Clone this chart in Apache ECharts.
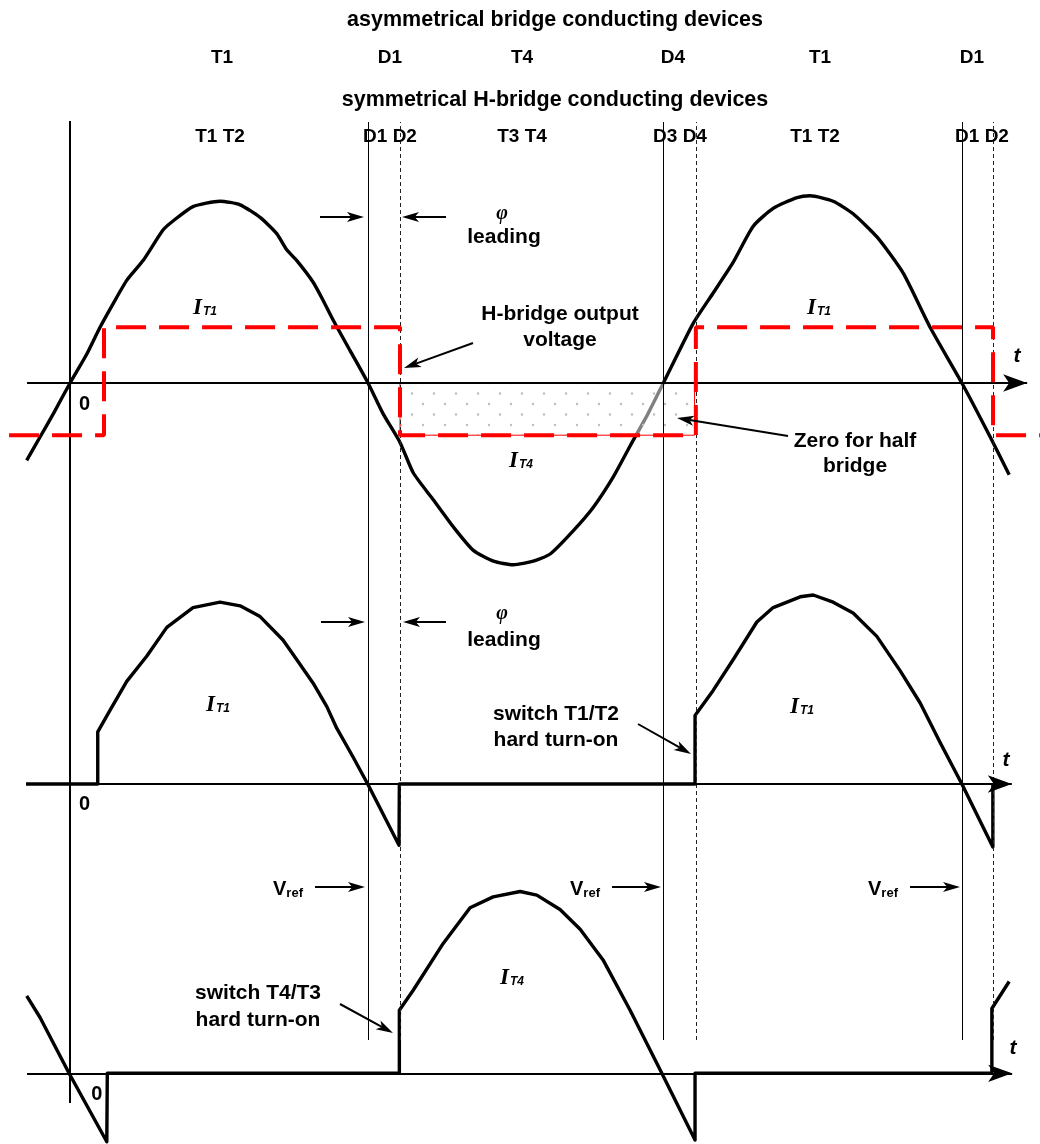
<!DOCTYPE html>
<html>
<head>
<meta charset="utf-8">
<script src="https://cdn.jsdelivr.net/npm/echarts@6/dist/echarts.min.js"></script>
<style>
html, body { margin: 0; padding: 0; background: #fff; }
#chart { width: 1040px; height: 1144px; }
</style>
</head>
<body>
<div id="chart"></div>
<script>
// x = electrical angle (deg), y = per-unit of current peak
const loadCurrent = [
  [-26.3, -0.43], [-18.2, -0.30], [-10.1, -0.17], [0, 0], [10.1, 0.16], [18.2, 0.31],
  [26.1, 0.44], [34.4, 0.57], [44.3, 0.68], [56.4, 0.85], [62.5, 0.90], [74.6, 0.98],
  [91, 1.01], [103.2, 0.99], [115.3, 0.92], [125.4, 0.83], [131.5, 0.74], [137.6, 0.68],
  [147.5, 0.56], [153.5, 0.46], [159.6, 0.35], [169.9, 0.18], [180.8, 0], [189.9, -0.17],
  [200.2, -0.33], [208.3, -0.50], [220.5, -0.65], [232.6, -0.80], [244.7, -0.93],
  [256.9, -0.99], [269, -1.01], [281.1, -0.99], [291.3, -0.95], [305.4, -0.82],
  [317.5, -0.69], [329.7, -0.52], [339.8, -0.35], [350.7, -0.17], [360, 0], [378, 0.33],
  [390.2, 0.50], [402.3, 0.67], [414.4, 0.87], [426.6, 0.97], [441.1, 1.03], [449, 1.04],
  [463, 1.01], [475.1, 0.94], [489.7, 0.81], [505.5, 0.61], [521.8, 0.31], [541.1, 0],
  [558.3, -0.30], [569.8, -0.51]
];
// H-bridge output voltage (drawn to scale of the figure)
const bridgeVoltage = [
  [-37, -0.29], [20.6, -0.29], [20.6, 0.31], [200.2, 0.31], [200.2, -0.29],
  [379.7, -0.29], [379.7, 0.31], [560, 0.31], [560, -0.29], [588.5, -0.29]
];
const halfBridgeZero = [[200.2, 0], [378.9, -0.29]];
const iT1 = [
  [-26.7, 0], [16.8, 0], [16.8, 0.29], [24.3, 0.41], [34.4, 0.57], [46.5, 0.71],
  [58.7, 0.87], [74.6, 0.98], [91, 1.01], [103.2, 0.99], [115.3, 0.93], [129.2, 0.80],
  [137.6, 0.69], [147.5, 0.56], [155.8, 0.43], [161.8, 0.31], [171.7, 0.15], [180.6, 0],
  [199.6, -0.34], [199.8, 0], [379.2, 0], [379.2, 0.38], [390.2, 0.52], [402.3, 0.69],
  [416.7, 0.90], [426.6, 0.98], [443, 1.04], [450.9, 1.05], [463, 1.01], [475.1, 0.95],
  [489.5, 0.82], [503.6, 0.63], [515.8, 0.45], [527.9, 0.23], [541.1, 0],
  [559.9, -0.35], [559.9, 0]
];
const iT4 = [
  [-26.3, 0.43], [-18.2, 0.31], [-0.6, 0], [22.3, -0.38], [22.6, 0], [199.8, 0],
  [199.8, 0.35], [208.1, 0.46], [226.3, 0.72], [242.7, 0.92], [256.7, 0.98], [273.1, 1.01],
  [283.2, 0.99], [297.3, 0.91], [309.5, 0.80], [323.4, 0.63], [339.8, 0.35], [358, 0.02],
  [379.2, -0.37], [379.2, 0], [559.3, 0], [559.3, 0.36], [569.8, 0.51]
];
const currentZeros = [180.8, 360, 541.1];   // thin solid guides
const voltageEdges = [200.2, 379.7, 560];   // dashed guides

const W = 1040, H = 1144;
const X_MIN = -42.5, X_MAX = 588.5;
const PX_PER_PU = 180;
const panelZero = [383, 784, 1073.3];

const axisEnds = [[-26.1, 580.7], [-26.7, 571.4], [-26.1, 571.6]];

const texts = [
  ['asymmetrical bridge conducting devices', 555, 20, 21.5],
  ['T1', 222, 58, 19], ['D1', 390, 58, 19], ['T4', 522, 58, 19],
  ['D4', 673, 58, 19], ['T1', 820, 58, 19], ['D1', 972, 58, 19],
  ['symmetrical H-bridge conducting devices', 555, 100, 21.5],
  ['T1 T2', 220, 137, 19], ['D1 D2', 390, 137, 19], ['T3 T4', 522, 137, 19],
  ['D3 D4', 680, 137, 19], ['T1 T2', 815, 137, 19], ['D1 D2', 982, 137, 19],
  ['leading', 504, 237, 21], ['leading', 504, 640, 21],
  ['H-bridge output', 560, 314, 21], ['voltage', 560, 340, 21],
  ['Zero for half', 855, 441, 21], ['bridge', 855, 466, 21],
  ['switch T1/T2', 556, 714, 21], ['hard turn-on', 556, 740, 21],
  ['switch T4/T3', 258, 993, 21], ['hard turn-on', 258, 1020, 21],
  ['0', 84.5, 404, 20], ['0', 84.5, 804, 20], ['0', 96.7, 1094, 20]
];
const phiMarks = [[502, 214], [502, 614]];
const tMarks = [[1017, 356], [1006, 760], [1013, 1048]];
const currentTags = [
  ['T1', 205, 308], ['T1', 819, 308], ['T4', 521, 461],
  ['T1', 218, 705], ['T1', 802, 707], ['T4', 512, 978]
];
const vrefTags = [[288, 889], [585, 889], [883, 889]];
const pointers = [
  [320, 217, 364, 217], [446, 217, 402, 217],
  [321, 622, 365, 622], [446, 622, 403, 622],
  [473, 343, 404, 368], [788, 436, 677, 418],
  [638, 724, 691, 754], [340, 1004, 393, 1033],
  [315, 887, 365, 887], [612, 887, 661, 887], [910, 887, 960, 887]
];

function dotPattern() {
  const c = document.createElement('canvas');
  c.width = 22; c.height = 21;
  const g = c.getContext('2d');
  g.fillStyle = 'rgba(255,255,255,0.5)';
  g.fillRect(0, 0, 22, 21);
  g.fillStyle = '#bdbdbd';
  [[5, 5], [16, 15.5]].forEach(p => { g.beginPath(); g.arc(p[0], p[1], 1.2, 0, Math.PI * 2); g.fill(); });
  return c;
}

function arrow(x1, y1, x2, y2, len, half) {
  const a = Math.atan2(y2 - y1, x2 - x1), c = Math.cos(a), s = Math.sin(a);
  const bx = x2 - len * c, by = y2 - len * s;
  const nx = x2 - len * 0.75 * c, ny = y2 - len * 0.75 * s;
  return [
    { type: 'line', silent: true, z: 20, shape: { x1, y1, x2: nx, y2: ny }, style: { stroke: '#000', lineWidth: 2 } },
    { type: 'polygon', silent: true, z: 20, shape: { points: [[x2, y2], [bx - half * s, by + half * c], [nx, ny], [bx + half * s, by - half * c]] }, style: { fill: '#000' } }
  ];
}

const FONT = '"Liberation Sans", Arial, sans-serif';
const graphics = [];
texts.forEach(t => graphics.push({
  type: 'text', silent: true, z: 10,
  style: { text: t[0], x: t[1], y: t[2], fill: '#000', font: 'bold ' + t[3] + 'px ' + FONT, align: 'center', verticalAlign: 'middle' }
}));
phiMarks.forEach(p => graphics.push({
  type: 'text', silent: true, z: 10,
  style: { text: 'φ', x: p[0], y: p[1], fill: '#000', font: 'italic bold 20px "Liberation Serif", serif', align: 'center', verticalAlign: 'middle' }
}));
tMarks.forEach(p => graphics.push({
  type: 'text', silent: true, z: 10,
  style: { text: 't', x: p[0], y: p[1], fill: '#000', font: 'italic bold 21px ' + FONT, align: 'center', verticalAlign: 'middle' }
}));
currentTags.forEach(p => graphics.push({
  type: 'text', silent: true, z: 10,
  style: {
    text: '{i|I}{s|' + p[0] + '}', x: p[1], y: p[2], align: 'center', verticalAlign: 'middle',
    rich: {
      i: { fontFamily: '"Liberation Serif", serif', fontStyle: 'italic', fontWeight: 'bold', fontSize: 23, fill: '#000', lineHeight: 24 },
      s: { fontFamily: FONT, fontStyle: 'italic', fontWeight: 'bold', fontSize: 12, fill: '#000', lineHeight: 12, verticalAlign: 'bottom', padding: [0, 0, 2, 1] }
    }
  }
}));
vrefTags.forEach(p => graphics.push({
  type: 'text', silent: true, z: 10,
  style: {
    text: '{v|V}{r|ref}', x: p[0], y: p[1], align: 'center', verticalAlign: 'middle',
    rich: {
      v: { fontFamily: FONT, fontWeight: 'bold', fontSize: 20, fill: '#000', lineHeight: 22 },
      r: { fontFamily: FONT, fontWeight: 'bold', fontSize: 13, fill: '#000', lineHeight: 13, verticalAlign: 'bottom' }
    }
  }
}));
pointers.forEach(p => graphics.push(...arrow(p[0], p[1], p[2], p[3], 17, 5)));

const xAxisFor = i => ({ type: 'value', gridIndex: i, min: X_MIN, max: X_MAX, show: false });

const axisLine = (i) => ({
  type: 'line', xAxisIndex: i, yAxisIndex: i, data: [], silent: true,
  markLine: {
    silent: true, animation: false, symbol: ['none', 'arrow'], symbolSize: [13, 24],
    label: { show: false },
    lineStyle: { color: '#000', width: 2, type: 'solid' },
    data: [[{ coord: [axisEnds[i][0], 0] }, { coord: [axisEnds[i][1], 0] }]]
  }
});

const guide = (xs, dashed) => ({
  type: 'line', xAxisIndex: 3, yAxisIndex: 3, data: [], silent: true,
  markLine: {
    silent: true, animation: false, symbol: 'none', label: { show: false },
    lineStyle: { color: dashed ? '#222' : '#000', width: 1, type: dashed ? [4, 3] : 'solid' },
    data: xs.map(x => ({ xAxis: x }))
  }
});

const wave = (i, data, z) => ({
  type: 'line', xAxisIndex: i, yAxisIndex: i, data, symbol: 'none', silent: true, z,
  lineStyle: { color: '#000', width: 3.4, join: 'round' }
});

const chart = echarts.init(document.getElementById('chart'));
chart.setOption({
  animation: false,
  backgroundColor: '#fff',
  grid: [
    { left: 0, right: 0, top: 0, bottom: 0 },
    { left: 0, right: 0, top: 0, bottom: 0 },
    { left: 0, right: 0, top: 0, bottom: 0 },
    { left: 0, right: 0, top: 122, bottom: H - 1040 },
    { left: 0, right: 0, top: 121, bottom: H - 1103 }
  ],
  xAxis: [0, 1, 2, 3, 4].map(xAxisFor),
  yAxis: [
    ...panelZero.map((z, i) => ({ type: 'value', gridIndex: i, min: -(H - z) / PX_PER_PU, max: z / PX_PER_PU, show: false })),
    { type: 'value', gridIndex: 3, min: 0, max: 1, show: false },
    { type: 'value', gridIndex: 4, min: 0, max: 1, show: false }
  ],
  graphic: graphics,
  series: [
    guide(currentZeros, false),
    guide(voltageEdges, true),
    {
      type: 'line', xAxisIndex: 4, yAxisIndex: 4, data: [], silent: true,
      markLine: { silent: true, animation: false, symbol: 'none', label: { show: false },
        lineStyle: { color: '#000', width: 2, type: 'solid' }, data: [{ xAxis: 0 }] }
    },
    axisLine(0), axisLine(1), axisLine(2),
    Object.assign(wave(0, loadCurrent, 2), { smooth: 0.2 }),
    {
      type: 'line', xAxisIndex: 0, yAxisIndex: 0, data: [], silent: true, z: 4,
      markArea: {
        silent: true, z: 4,
        itemStyle: { color: { image: dotPattern(), repeat: 'repeat' }, borderColor: '#f00', borderWidth: 1 },
        data: [[{ coord: halfBridgeZero[0] }, { coord: halfBridgeZero[1] }]]
      }
    },
    {
      type: 'line', xAxisIndex: 0, yAxisIndex: 0, data: bridgeVoltage, symbol: 'none', silent: true, z: 5,
      lineStyle: { color: '#ff0000', width: 4, type: [30, 13] }
    },
    wave(1, iT1, 3),
    wave(2, iT4, 3)
  ]
});
</script>
</body>
</html>
